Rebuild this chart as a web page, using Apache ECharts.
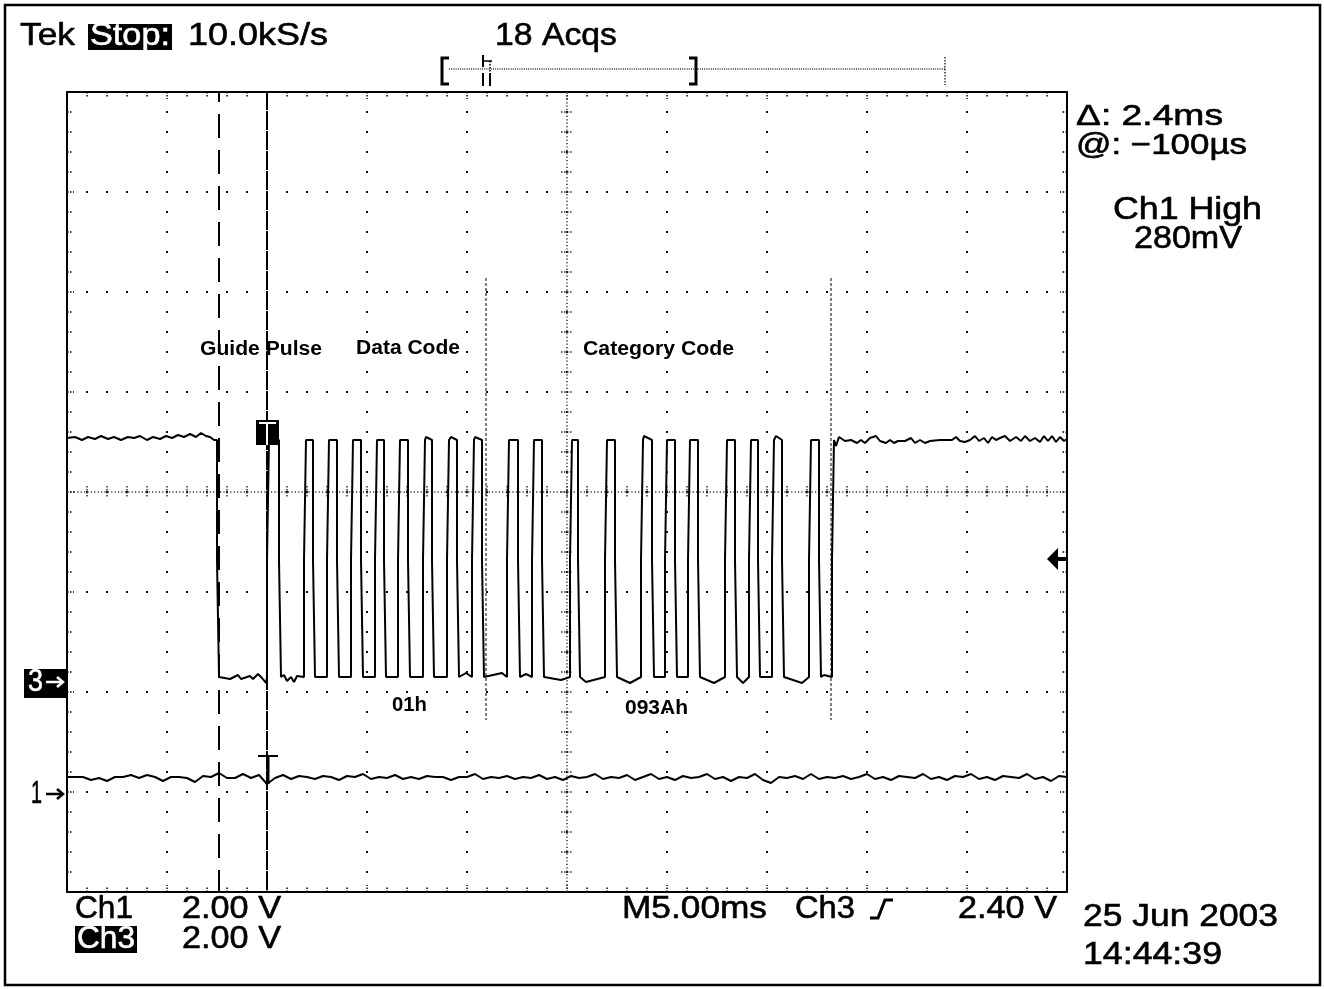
<!DOCTYPE html>
<html><head><meta charset="utf-8">
<script src="https://cdn.jsdelivr.net/npm/echarts@6/dist/echarts.min.js"></script>
<style>html,body{margin:0;padding:0;background:#fff}#c{width:1324px;height:989px}</style>
</head><body><div id="c"></div>
<script>
// ================= DATA (ms, volts) =================
const timePerDivMs = 5;
const ch3VoltsPerDiv = 2.0;
const ch1VoltsPerDiv = 2.0;
const ch3GroundDiv = -1.92;
const ch1GroundDiv = -3.03;
const ch3High = 4.88, ch3Low = 0.14, ch3Mid = 2.48;
const ch3EdgeSampleMs = 0.1;
const ch3RiseTimes = [10.05, 11.9, 13.05, 14.25, 15.45, 16.6, 17.85, 19.05, 20.3,
  22.05, 23.3, 25.2, 26.95, 28.75, 29.95, 31.1, 32.95, 34.15, 35.3, 37.15, 38.3];
const ch3FallTimes = [7.55, 10.65, 12.35, 13.55, 14.75, 15.9, 17.1, 18.3, 19.55, 20.8,
  22.6, 23.8, 25.6, 27.45, 29.3, 30.45, 31.6, 33.45, 34.6, 35.8, 37.65];
const ch3PreNoise = [[0.00,4.92],[0.40,4.94],[0.75,4.88],[1.05,4.94],[1.40,4.90],[1.70,4.96],[2.05,4.90],
  [2.35,4.94],[2.70,4.88],[3.05,4.94],[3.35,4.92],[3.65,4.96],[4.00,4.88],[4.30,4.94],[4.65,4.90],
  [4.95,4.96],[5.25,4.92],[5.55,4.98],[5.85,4.94],[6.15,5.00],[6.45,4.94],[6.70,5.02],[6.95,4.96],
  [7.15,4.94],[7.35,4.88]];
const ch3PulseNoise = [[8.15,0.10],[8.55,0.18],[8.70,0.10],[9.15,0.16],[9.30,0.10],[9.55,0.20],[9.75,0.12],[9.95,0.02],
  [10.85,0.18],[11.0,0.06],[11.2,0.14],[11.35,0.04],[11.5,0.16],[13.7,0.18],[17.95,4.94],[19.2,4.94],
  [19.95,0.22],[20.4,4.94],[21.75,0.22],[22.2,4.84],[22.95,0.20],[23.45,4.84],[24.7,0.08],[25.95,0.04],
  [27.1,4.84],[28.15,0.02],[28.85,4.96],[30.1,4.84],[31.25,4.84],[32.35,0.02],[33.1,4.84],[33.8,0.02],
  [34.3,4.84],[35.45,4.96],[36.75,0.02],[37.85,0.18]];
const ch3PostNoise = [[38.45,4.76],[38.6,4.94],[38.9,4.86],[39.2,4.88],[39.5,4.82],[39.7,4.88],[39.9,4.82],
  [40.15,4.92],[40.45,4.96],[40.65,4.86],[40.95,4.82],[41.15,4.88],[41.35,4.82],[41.55,4.86],[41.9,4.86],
  [42.2,4.92],[42.4,4.82],[42.65,4.88],[42.9,4.82],[43.15,4.86],[43.65,4.88],[44.25,4.88],[44.45,4.94],
  [44.65,4.86],[44.9,4.84],[45.15,4.88],[45.4,4.96],[45.6,4.86],[45.85,4.92],[46.05,4.82],[46.25,4.94],
  [46.45,4.88],[46.65,4.92],[46.9,4.96],[47.15,4.86],[47.45,4.94],[47.7,4.86],[47.9,4.96],[48.15,4.86],
  [48.4,4.92],[48.65,4.84],[48.85,4.96],[49.05,4.86],[49.25,4.96],[49.45,4.84],[49.65,4.94],[49.85,4.86],[50.0,4.90]];
const ch1SampleStepMs = 0.4;
const ch1Samples = [0.36,0.36,0.36,0.30,0.34,0.28,0.36,0.36,0.40,0.34,0.40,0.36,0.28,0.36,0.36,0.34,
  0.26,0.38,0.36,0.44,0.34,0.34,0.42,0.34,0.40,0.22,0.34,0.40,0.32,0.38,0.36,0.32,0.38,0.36,0.30,0.38,
  0.36,0.42,0.32,0.36,0.34,0.40,0.32,0.36,0.32,0.38,0.36,0.36,0.30,0.36,0.36,0.42,0.32,0.36,0.34,0.38,
  0.32,0.36,0.34,0.40,0.32,0.36,0.30,0.38,0.34,0.36,0.42,0.32,0.36,0.34,0.40,0.30,0.36,0.42,0.32,0.36,
  0.30,0.38,0.34,0.36,0.42,0.32,0.36,0.28,0.36,0.34,0.42,0.30,0.24,0.36,0.34,0.38,0.32,0.42,0.32,0.36,
  0.34,0.38,0.32,0.36,0.42,0.32,0.36,0.30,0.38,0.36,0.34,0.42,0.32,0.36,0.30,0.38,0.36,0.42,0.32,0.36,
  0.30,0.38,0.36,0.34,0.42,0.32,0.36,0.28,0.38,0.36];
const cursorTimes = [7.6, 10.0];
const sectionBounds = [20.95, 38.2];
const sectionSpanDiv = [2.14, -2.28];
const xTicksMs = {min: 0, max: 50};
const yTicksDiv = {min: -4, max: 4};

// ================= BUILD =================
function buildCh3(){
  const edges = ch3RiseTimes.map(t=>({t, up:true})).concat(ch3FallTimes.map(t=>({t, up:false}))).sort((a,b)=>a.t-b.t);
  const noise = ch3PreNoise.concat(ch3PulseNoise, ch3PostNoise).sort((a,b)=>a[0]-b[0]);
  const h = ch3EdgeSampleMs/2;
  const pts = []; let level = ch3High; let from = -Infinity;
  const take = (a,b)=>noise.forEach(p=>{ if(p[0]>a && p[0]<b) pts.push(p); });
  edges.forEach(e=>{
    take(from, e.t-h);
    pts.push([e.t-h, level], [e.t-h, ch3Mid]);
    level = e.up ? ch3High : ch3Low;
    pts.push([e.t+h, ch3Mid], [e.t+h, level]);
    from = e.t+h;
  });
  take(from, Infinity);
  return pts;
}
const ch3Data = buildCh3().map(([t,v])=>[t, v/ch3VoltsPerDiv + ch3GroundDiv]);
const ch1Data = ch1Samples.map((v,i)=>[i*ch1SampleStepMs, v/ch1VoltsPerDiv + ch1GroundDiv]);

const chart = echarts.init(document.getElementById('c'), null, {renderer:'canvas'});
const tickStyle = {color:'#000', width:1.5, type:[1.5,1.5]};
function mkAxis(isX, pos, split){
  const r = isX ? xTicksMs : yTicksDiv;
  return {type:'value', min:r.min, max:r.max, interval: isX ? timePerDivMs : 1, position:pos,
    axisLine:{show:true, onZero:false, lineStyle:{color:'#000', width:2}},
    axisTick:{show:true, inside:true, length:7, lineStyle:tickStyle},
    minorTick:{show:true, splitNumber:5, length:5, lineStyle:tickStyle},
    axisLabel:{show:false},
    splitLine:{show:split, lineStyle:{color:'#111', width:2, type:[2,18], dashOffset:1}},
    minorSplitLine:{show:false}};
}
const lineSeries = (data, style, z)=>({type:'line', data, symbol:'none', silent:true, z:z||3, lineStyle:style, animation:false});
chart.setOption({
  animation:false, backgroundColor:'#fff',
  grid:{left:67, top:92, width:1000, height:800, show:false},
  xAxis:[mkAxis(true,'bottom',true), mkAxis(true,'top',false)],
  yAxis:[mkAxis(false,'left',true), mkAxis(false,'right',false)],
  series:[
    lineSeries([[cursorTimes[0],4],[cursorTimes[0],-4]], {color:'#000', width:2, type:[24,12], dashOffset:14}, 2),
    lineSeries([[cursorTimes[1],4],[cursorTimes[1],-4]], {color:'#000', width:2, type:[18,2]}, 2),
    lineSeries([[sectionBounds[0],sectionSpanDiv[0]],[sectionBounds[0],sectionSpanDiv[1]]], {color:'#000', width:1, type:[3,2]}, 2),
    lineSeries([[sectionBounds[1],sectionSpanDiv[0]],[sectionBounds[1],sectionSpanDiv[1]]], {color:'#000', width:1, type:[3,2]}, 2),
    lineSeries(ch3Data, {color:'#000', width:2}, 4),
    lineSeries(ch1Data, {color:'#000', width:2}, 4)
  ]
});

// ================= DECORATION (layout) =================
const P = (t,d)=>chart.convertToPixel({gridIndex:0}, [t,d]);
const [x0, yTop] = P(0,4), [x1, yBot] = P(50,-4), [cx, cy] = P(25,0);
const mctx = document.createElement('canvas').getContext('2d');
const FONT = "'Liberation Sans', Arial, sans-serif";
const els = [];
function txt(s, x, base, w, size, opt){
  opt = opt||{};
  const font = (opt.bold?'bold ':'') + size + 'px ' + FONT;
  mctx.font = font;
  const sc = w / mctx.measureText(s).width;
  els.push({type:'text', x:x, y:base - 0.35*size, scaleX:sc, z:opt.z||30, silent:true,
    style:{text:s, x:0, y:0, font:font, fill:opt.fill||'#000', align:'left', verticalAlign:'middle',
      stroke: opt.bold ? null : (opt.fill||'#000'), lineWidth: opt.bold ? 0 : 0.6}});
}
const line = (a,b,c,d,w,dash,color,z)=>els.push({type:'line', silent:true, z:z||1, shape:{x1:a,y1:b,x2:c,y2:d},
  style:{stroke:color||'#000', lineWidth:w, lineDash:dash||null}});
const rect = (x,y,w,h,z)=>els.push({type:'rect', silent:true, z:z||20, shape:{x,y,width:w,height:h}, style:{fill:'#000'}});

// outer frame
els.push({type:'rect', silent:true, z:0, shape:{x:5,y:5,width:1315,height:980}, style:{fill:null, stroke:'#000', lineWidth:2.5}});
// centre cross of graticule
line(x0, cy, x1, cy, 1.5, [1.2,2.2], '#333');
line(cx, yTop, cx, yBot, 1.5, [1.2,2.2], '#333');
for (let t=1; t<50; t++){ const [px] = P(t,0); line(px, cy-6, px, cy+6, 1.5, [1.5,1.5], '#333'); }
for (let k=1; k<40; k++){ const py = yTop + (yBot-yTop)*k/40; line(cx-6, py, cx+6, py, 1.5, [1.5,1.5], '#333'); }

// top status line
txt('Tek', 20, 47, 55, 32);
rect(88, 24, 84, 26);
txt('Stop:', 90, 47, 80, 32, {fill:'#fff', z:31});
txt('10.0kS/s', 188, 47, 140, 32);
txt('18 Acqs', 495, 47, 122, 32);
// record bar
els.push({type:'polyline', silent:true, z:5, shape:{points:[[449,58],[442,58],[442,84],[449,84]]}, style:{stroke:'#000', lineWidth:3, fill:null}});
els.push({type:'polyline', silent:true, z:5, shape:{points:[[689,58],[696,58],[696,84],[689,84]]}, style:{stroke:'#000', lineWidth:3, fill:null}});
line(449, 69, 945, 69, 1.5, [1,1.2], '#333');
line(945, 57, 945, 85, 1.5, [1.5,1.5], '#333');
line(483, 55, 483, 67, 2);
line(483, 61, 492, 61, 1.5);
line(490, 61, 490, 73, 1.5, [1.5,1.5]);
line(483, 73, 483, 86, 2);
line(490, 73, 490, 86, 2);

// right readouts
txt('\u0394: 2.4ms', 1076, 127, 147, 29);
txt('@: \u2212100\u00b5s', 1076, 156, 171, 29);
txt('Ch1 High', 1113, 221, 149, 32);
txt('280mV', 1134, 250, 108, 32);

// bottom readouts
txt('Ch1', 75, 920, 58, 32);
txt('2.00 V', 182, 920, 99, 32);
rect(75, 926, 62, 27);
txt('Ch3', 77, 950, 58, 32, {fill:'#fff', z:31});
txt('2.00 V', 182, 950, 99, 32);
txt('M5.00ms', 622, 920, 145, 32);
txt('Ch3', 795, 920, 60, 32);
els.push({type:'polyline', silent:true, z:5, shape:{points:[[870,918],[878,918],[885,900],[893,900]]}, style:{stroke:'#000', lineWidth:3, fill:null}});
txt('2.40 V', 958, 920, 99, 32);
txt('25 Jun 2003', 1083, 928, 195, 32);
txt('14:44:39', 1083, 966, 139, 32);

// channel ground markers
const yG3 = P(0, ch3GroundDiv)[1] - 2, yG1 = P(0, ch1GroundDiv)[1] - 1;
rect(24, yG3-13, 43, 29);
txt('3', 28, yG3+11, 15, 32, {fill:'#fff', z:31});
line(46, yG3, 62, yG3, 2.5, null, '#fff', 31);
els.push({type:'polyline', silent:true, z:31, shape:{points:[[57,yG3-5],[63,yG3],[57,yG3+5]]}, style:{stroke:'#fff', lineWidth:2.5, fill:null}});
txt('1', 31, yG1+11, 11, 32);
line(46, yG1, 62, yG1, 2.5);
els.push({type:'polyline', silent:true, z:5, shape:{points:[[57,yG1-5],[63,yG1],[57,yG1+5]]}, style:{stroke:'#000', lineWidth:2.5, fill:null}});

// trigger level arrow (right edge)
els.push({type:'polygon', silent:true, z:20, shape:{points:[[1047,559],[1058,548],[1058,570]]}, style:{fill:'#000'}});
rect(1057, 557, 10, 4);

// cursor intersection markers
const [cX] = P(cursorTimes[1], 0);
rect(cX-11, 420, 23, 25, 20);
line(cX-8, 423, cX+9, 423, 2, null, '#fff', 21);
line(cX, 423, cX, 445, 2, null, '#fff', 21);
line(cX+1, 756, cX+1, 784, 3, null, '#000', 20);
line(cX-9, 756, cX+11, 756, 2, null, '#000', 20);

// annotations
txt('Guide Pulse', 200, 356, 122, 20, {bold:true});
txt('Data Code', 356, 355, 104, 20, {bold:true});
txt('Category Code', 583, 356, 151, 20, {bold:true});
txt('01h', 392, 712, 35, 20, {bold:true});
txt('093Ah', 625, 715, 63, 20, {bold:true});

chart.setOption({graphic:{elements:els}});
</script></body></html>
